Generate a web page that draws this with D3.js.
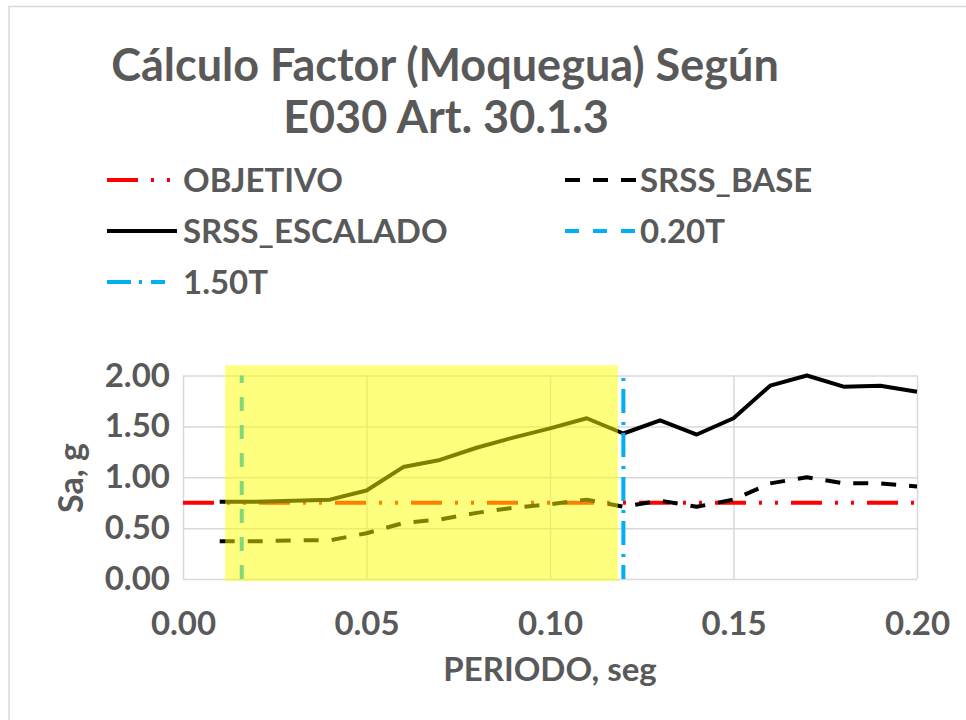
<!DOCTYPE html>
<html>
<head>
<meta charset="utf-8">
<script src="https://cdn.jsdelivr.net/npm/d3@7"></script>
<style>
  body { margin: 0; background: #fff; }
  text { font-family: Lato, "Noto Sans", sans-serif; font-weight: bold; fill: #595959; }
</style>
</head>
<body>
<script>
// data
var periods  = [0.01, 0.02, 0.03, 0.04, 0.05, 0.06, 0.07, 0.08, 0.09, 0.10,
                0.11, 0.12, 0.13, 0.14, 0.15, 0.16, 0.17, 0.18, 0.19, 0.20];
var escalado = [0.76, 0.76, 0.77, 0.78, 0.87, 1.10, 1.17, 1.29, 1.39, 1.48,
                1.58, 1.43, 1.56, 1.42, 1.58, 1.90, 2.00, 1.89, 1.90, 1.84];
var base     = [0.37, 0.37, 0.38, 0.38, 0.45, 0.55, 0.585, 0.65, 0.70, 0.735,
                0.78, 0.71, 0.77, 0.71, 0.78, 0.94, 1.00, 0.94, 0.94, 0.91];
var objetivoT  = [0.00, 0.20];
var objetivoSa = [0.75, 0.75];
var lim020T = [0.016, 0.016];   // 0.20T, T = 0.08 s
var lim150T = [0.12, 0.12];     // 1.50T
var limSa   = [0.00, 2.00];
var highlightT  = [0.0115, 0.1185];
var highlightSa = [-0.02, 2.10];

var xTicks = [0, 0.05, 0.10, 0.15, 0.20];
var yTicks = [0, 0.5, 1.0, 1.5, 2.0];
var legendNames = ["OBJETIVO", "SRSS_BASE", "SRSS_ESCALADO", "0.20T", "1.50T"];

var W = 966, H = 720;

// line styles per series
var style = {
  "OBJETIVO":      {color: "#FF0000", dash: "31,13,3,13,3,13", offset: 0, len: 70},
  "SRSS_BASE":     {color: "#000000", dash: "15,13", offset: 0, len: 71},
  "SRSS_ESCALADO": {color: "#000000", dash: null, offset: 0, len: 70},
  "0.20T":         {color: "#00B0F0", dash: "14,14", offset: 0, len: 71},
  "1.50T":         {color: "#00B0F0", dash: "24,8,3,9", offset: 10, len: 58}
};

var svg = d3.select("body").append("svg")
    .attr("width", W)
    .attr("height", H);

// chart border
svg.append("rect")
    .attr("x", 9).attr("y", 6.5)
    .attr("width", 1200).attr("height", 1200)
    .attr("fill", "none")
    .attr("stroke", "#D9D9D9")
    .attr("stroke-width", 1.5);

// title
var title = svg.append("text")
    .attr("text-anchor", "middle")
    .style("font-size", "45px");
title.append("tspan").attr("x", 445).attr("y", 81).text("Cálculo Factor (Moquegua) Según");
title.append("tspan").attr("x", 446).attr("y", 133).text("E030 Art. 30.1.3");

// scales
var x = d3.scaleLinear().domain([0, 0.20]).range([183, 917]);
var y = d3.scaleLinear().domain([0, 2.0]).range([579, 375.5]);

// axes + gridlines
var xAxis = svg.append("g")
    .attr("transform", "translate(0," + y(0) + ")")
    .call(d3.axisBottom(x).tickValues(xTicks)
      .tickSize(-(y(0) - y(2))).tickPadding(33)
      .tickFormat(d3.format(".2f")));
var yAxis = svg.append("g")
    .attr("transform", "translate(" + x(0) + ",0)")
    .call(d3.axisLeft(y).tickValues(yTicks)
      .tickSize(-(x(0.2) - x(0))).tickPadding(13)
      .tickFormat(d3.format(".2f")));
[xAxis, yAxis].forEach(function(a) {
  a.select(".domain").remove();
  a.selectAll("line").attr("stroke", "#D9D9D9").attr("stroke-width", 1.5);
  a.selectAll("text").style("font-size", "33px").attr("font-family", null).attr("fill", null);
});

// axis titles
svg.append("text")
    .attr("x", 550).attr("y", 681)
    .attr("text-anchor", "middle")
    .style("font-size", "33px")
    .text("PERIODO, seg");
svg.append("text")
    .attr("transform", "translate(83,478) rotate(-90)")
    .attr("text-anchor", "middle")
    .style("font-size", "34px")
    .text("Sa, g");

var line = d3.line()
    .x(function(d) { return x(d[0]); })
    .y(function(d) { return y(d[1]); });

function drawSeries(name, xs, ys) {
  var s = style[name];
  svg.append("path")
      .datum(d3.zip(xs, ys))
      .attr("d", line)
      .attr("fill", "none")
      .attr("stroke", s.color)
      .attr("stroke-width", 4)
      .attr("stroke-linejoin", "round")
      .attr("stroke-dasharray", s.dash)
      .attr("stroke-dashoffset", s.offset);
}

drawSeries("OBJETIVO", objetivoT, objetivoSa);
drawSeries("SRSS_BASE", periods, base);
drawSeries("SRSS_ESCALADO", periods, escalado);
drawSeries("0.20T", lim020T, limSa);
drawSeries("1.50T", lim150T, limSa);

// semi-transparent highlight box over the short period range
svg.append("rect")
    .attr("x", x(highlightT[0]))
    .attr("y", y(highlightSa[1]))
    .attr("width", x(highlightT[1]) - x(highlightT[0]))
    .attr("height", y(highlightSa[0]) - y(highlightSa[1]))
    .attr("fill", "#FFFF00")
    .attr("fill-opacity", 0.5);

// legend, two columns
var legend = svg.append("g");
legendNames.forEach(function(name, i) {
  var col = i % 2, row = Math.floor(i / 2);
  var lx = col === 0 ? 107 : 565;
  var ly = 180 + row * 51;
  var s = style[name];
  legend.append("line")
      .attr("x1", lx).attr("x2", lx + s.len)
      .attr("y1", ly).attr("y2", ly)
      .attr("stroke", s.color)
      .attr("stroke-width", 4)
      .attr("stroke-dasharray", s.dash);
  legend.append("text")
      .attr("x", lx + (col === 0 ? 76 : 75))
      .attr("y", ly + 12)
      .style("font-size", "33px")
      .text(name);
});
</script>
</body>
</html>
